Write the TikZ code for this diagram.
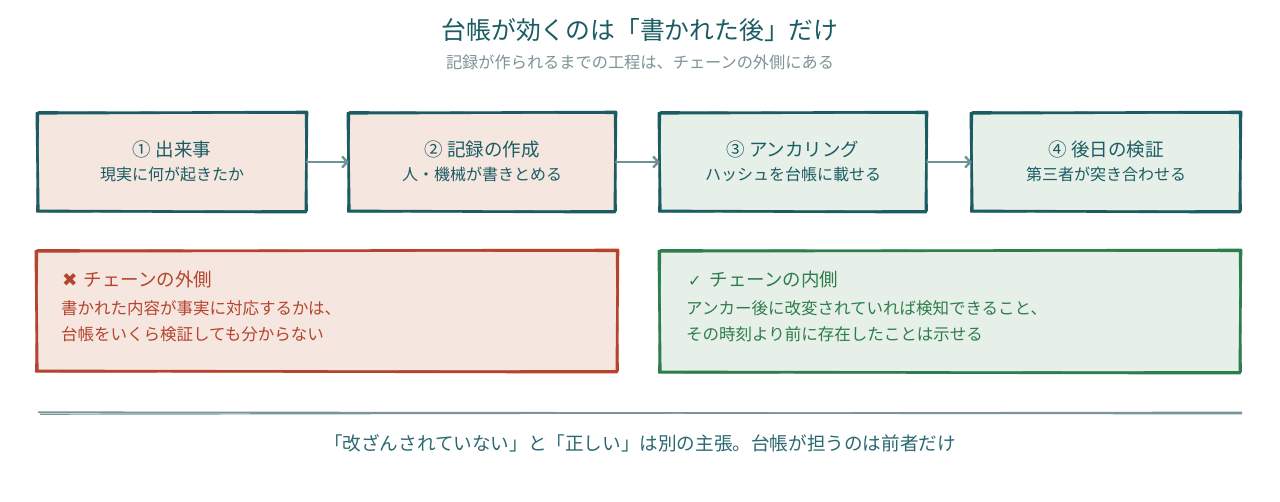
\documentclass[tikz,border=0pt]{standalone}
\usepackage{fontspec}
\setmainfont{Noto Sans CJK JP}
\newfontfamily\djv{DejaVu Sans}
\usetikzlibrary{calc,fit,arrows.meta}
\definecolor{teal}{HTML}{1B5C63}
\definecolor{arrowc}{HTML}{6F9297}
\definecolor{pinkf}{HTML}{F5E6DF}
\definecolor{greenf}{HTML}{E6F0E8}
\definecolor{redc}{HTML}{B5442E}
\definecolor{greenc}{HTML}{2E7D4C}
\definecolor{subc}{HTML}{7D9397}
\definecolor{footc}{HTML}{2A6970}
\definecolor{rulec}{HTML}{7A9699}
\newcommand\skbox[5]{%
  \node[fit={#2 #3}, inner sep=0pt, fill=#4] (#1) {};
  \draw[#5, line width=2.6pt, line join=round]
    ($(#1.north west)+(-1.0,0.5)$) -- ($(#1.north east)+(0.8,-0.8)$) --
    ($(#1.south east)+(-0.4,1.0)$) -- ($(#1.south west)+(0.5,-0.3)$) -- cycle;
  \draw[#5, line width=1.5pt, line join=round]
    ($(#1.north west)+(0.6,-0.9)$) -- ($(#1.north east)+(-0.7,0.5)$) --
    ($(#1.south east)+(0.9,-0.4)$) -- ($(#1.south west)+(-0.9,0.8)$) -- cycle;
}
\tikzset{
  btitle/.style={text=teal, font=\fontsize{18.5}{22}\selectfont, inner sep=0pt},
  bsub/.style={text=teal, font=\fontsize{16}{20}\selectfont, inner sep=0pt},
  flow/.style={draw=arrowc, line width=2.8pt, -{Straight Barb[length=5pt,width=11pt,line width=2.4pt]}},
}
\begin{document}
\begin{tikzpicture}[x=1pt,y=-1pt]
\useasboundingbox[fill=white] (0,0) rectangle (1280,502);

\node[text=teal, font=\fontsize{24.8}{28}\selectfont, inner sep=0pt] (title) at (640,30) {台帳が効くのは「書かれた後」だけ};
\node[text=subc, font=\fontsize{16.2}{20}\selectfont, inner sep=0pt] (subtitle) at (640,62) {記録が作られるまでの工程は、チェーンの外側にある};

\skbox{b1}{(38,113)}{(306,211)}{pinkf}{teal}
\skbox{b2}{(349,113)}{(615,211)}{pinkf}{teal}
\skbox{b3}{(660,113)}{(926,211)}{greenf}{teal}
\skbox{b4}{(972,113)}{(1240,211)}{greenf}{teal}

\node[btitle] (t1) at ($(b1.center)+(0,-13)$) {① 出来事};
\node[bsub] (s1) at ($(b1.center)+(0,12)$) {現実に何が起きたか};
\node[btitle] (t2) at ($(b2.center)+(0,-13)$) {② 記録の作成};
\node[bsub] (s2) at ($(b2.center)+(0,12)$) {人・機械が書きとめる};
\node[btitle] (t3) at ($(b3.center)+(0,-13)$) {③ アンカリング};
\node[bsub] (s3) at ($(b3.center)+(0,12)$) {ハッシュを台帳に載せる};
\node[btitle] (t4) at ($(b4.center)+(0,-13)$) {④ 後日の検証};
\node[bsub] (s4) at ($(b4.center)+(0,12)$) {第三者が突き合わせる};

\draw[flow] (b1.east) -- (b2.west);
\draw[flow] (b2.east) -- (b3.west);
\draw[flow] (b3.east) -- (b4.west);

\skbox{out}{(37,251)}{(617,371)}{pinkf}{redc}
\skbox{in}{(660,251)}{(1240,372)}{greenf}{greenc}

\node[anchor=west, text=redc, font=\fontsize{18.5}{22}\selectfont, inner sep=0pt] (ot) at (62,279) {{\djv\fontsize{18.5}{20}\selectfont ✖}\hspace{2pt} チェーンの外側};
\node[anchor=west, text=redc, font=\fontsize{16.5}{20}\selectfont, inner sep=0pt] (o1) at (61,308) {書かれた内容が事実に対応するかは、};
\node[anchor=west, text=redc, font=\fontsize{16.5}{20}\selectfont, inner sep=0pt] (o2) at (61,334) {台帳をいくら検証しても分からない};

\node[anchor=west, text=greenc, font=\fontsize{18.5}{22}\selectfont, inner sep=0pt] (it) at (688,279) {{\djv\fontsize{16}{18}\selectfont ✓}\hspace{4pt} チェーンの内側};
\node[anchor=west, text=greenc, font=\fontsize{16.5}{20}\selectfont, inner sep=0pt] (i1) at (686,308) {アンカー後に改変されていれば検知できること、};
\node[anchor=west, text=greenc, font=\fontsize{16.5}{20}\selectfont, inner sep=0pt] (i2) at (686,334) {その時刻より前に存在したことは示せる};

\coordinate (r1) at (38,413);
\coordinate (r2) at (1242,413);
\draw[rulec, line width=1.6pt] ($(r1)+(0,-0.8)$) -- ($(r2)+(0,0.6)$);
\draw[rulec, line width=1.2pt] ($(r1)+(2,1.2)$) -- ($(r2)+(0,-0.8)$);

\node[text=footc, font=\fontsize{18.6}{22}\selectfont, inner sep=0pt] (foot) at (640,443) {「改ざんされていない」と「正しい」は別の主張。台帳が担うのは前者だけ};
\end{tikzpicture}
\end{document}
